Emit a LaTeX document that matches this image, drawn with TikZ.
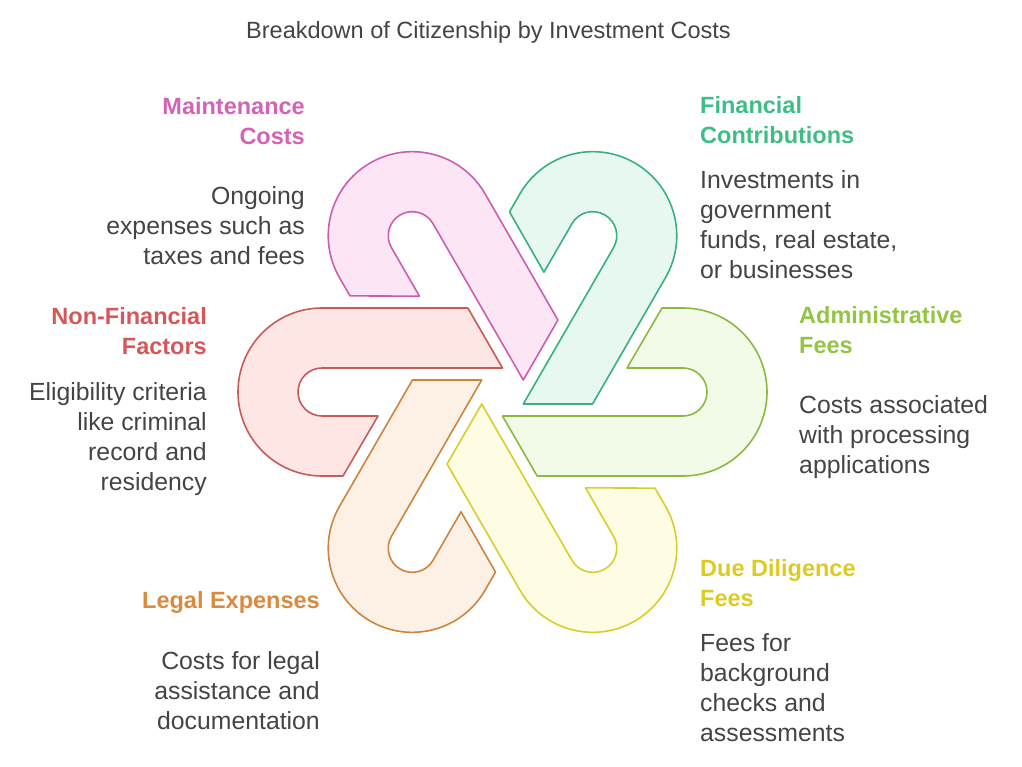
\documentclass[tikz,border=0pt]{standalone}
\usepackage{fontspec}
\setmainfont{Liberation Sans}
\usetikzlibrary{positioning}

\definecolor{txtgray}{HTML}{444444}
\definecolor{mainline}{HTML}{C95FAE}
\definecolor{mainfill}{HTML}{FCE6F5}
\definecolor{mainhead}{HTML}{D563B5}
\definecolor{finline}{HTML}{3AAF80}
\definecolor{finfill}{HTML}{E6F8EF}
\definecolor{finhead}{HTML}{3EBE86}
\definecolor{admline}{HTML}{8DB840}
\definecolor{admfill}{HTML}{F2FAE8}
\definecolor{admhead}{HTML}{93C443}
\definecolor{dueline}{HTML}{D8CE2A}
\definecolor{duefill}{HTML}{FEFDE3}
\definecolor{duehead}{HTML}{DCCB21}
\definecolor{legline}{HTML}{CC8440}
\definecolor{legfill}{HTML}{FDF1E5}
\definecolor{leghead}{HTML}{D98A3F}
\definecolor{nonline}{HTML}{C85A5A}
\definecolor{nonfill}{HTML}{FDE6E4}
\definecolor{nonhead}{HTML}{D4585A}

% one hook, opening to the right, drawn round the middle of the flower
\newcommand{\hookband}{(-34.64,84) -- (-180.5,84) arc[start angle=90, end angle=270, radius=84]
	-- (-159.5,-84) -- (-124.5,-24) -- (-180.5,-24) arc[start angle=270, end angle=90, radius=24]
	-- (0,24) -- cycle}

\tikzset{
	band/.style={line width=1.6pt, line join=round, shift={(502.5,374)}},
	title/.style={font=\fontsize{23.5}{30}\selectfont, text=txtgray, inner sep=0pt},
	head/.style={font=\bfseries\fontsize{23.5}{30}\selectfont, inner sep=0pt},
	body/.style={font=\fontsize{24.8}{30}\selectfont, text=txtgray, inner sep=0pt},
}

\begin{document}
\begin{tikzpicture}[x=1pt, y=1pt]

	\useasboundingbox (0,0) rectangle (1022,766);

	\node[title, anchor=base] (title) at (488.5,727.7) {Breakdown of Citizenship by Investment Costs};

	% the six hooks
	\draw[band, draw=nonline, fill=nonfill, rotate=0] \hookband;
	\draw[band, draw=mainline, fill=mainfill, rotate=-60] \hookband;
	\draw[band, draw=finline, fill=finfill, rotate=-120] \hookband;
	\draw[band, draw=admline, fill=admfill, rotate=180] \hookband;
	\draw[band, draw=dueline, fill=duefill, rotate=120] \hookband;
	\draw[band, draw=legline, fill=legfill, rotate=60] \hookband;

	% labels on the left (base = last line)
	\node[head, text=mainhead, align=right, anchor=base east] (mainT) at (305,621.7) {Maintenance\\Costs};
	\node[body, align=right, anchor=base east] (mainB) at (305,501.7) {Ongoing\\expenses such as\\taxes and fees};

	\node[head, text=nonhead, align=right, anchor=base east] (nonT) at (207,411.7) {Non-Financial\\Factors};
	\node[body, align=right, anchor=base east] (nonB) at (207,275) {Eligibility criteria\\like criminal\\record and\\residency};

	\node[head, text=leghead, align=right, anchor=base east] (legT) at (320,157.7) {Legal Expenses};
	\node[body, align=right, anchor=base east] (legB) at (320,36.7) {Costs for legal\\assistance and\\documentation};

	% labels on the right
	\node[head, text=finhead, align=left, anchor=base west] (finT) at (700,622) {Financial\\Contributions};
	\node[body, align=left, anchor=base west] (finB) at (700,487) {Investments in\\government\\funds, real estate,\\or businesses};

	\node[head, text=admhead, align=left, anchor=base west] (admT) at (799,412.7) {Administrative\\Fees};
	\node[body, align=left, anchor=base west] (admB) at (799,292.7) {Costs associated\\with processing\\applications};

	\node[head, text=duehead, align=left, anchor=base west] (dueT) at (700,159.3) {Due Diligence\\Fees};
	\node[body, align=left, anchor=base west] (dueB) at (700,24.3) {Fees for\\background\\checks and\\assessments};

\end{tikzpicture}
\end{document}
